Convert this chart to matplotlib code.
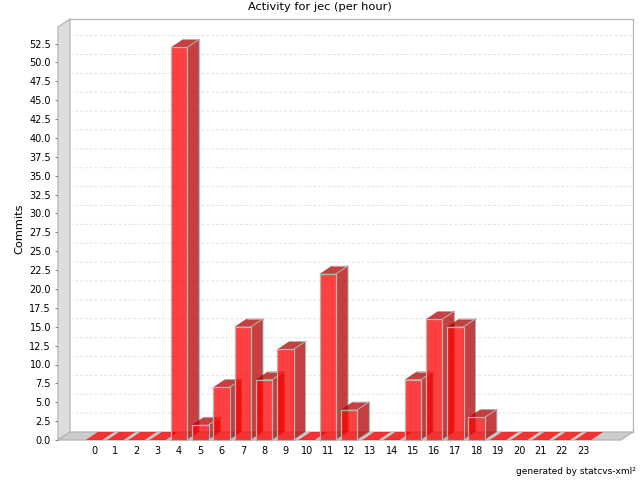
import matplotlib
matplotlib.use('Agg')
import matplotlib.pyplot as plt
from matplotlib.patches import Polygon

hours = list(range(24))
commits = [0, 0, 0, 0, 52, 2, 7, 15, 8, 12, 0, 22, 4, 0, 0, 8, 16, 15, 3, 0, 0, 0, 0, 0]
y_ticks = [2.5 * i for i in range(1, 22)]

plt.rcParams['font.family'] = 'DejaVu Sans'

fig = plt.figure(figsize=(6.4, 4.8), dpi=100)
# front plane of the 3d box, in pixels
left, right, top, bottom = 58, 621, 27, 440
ax = fig.add_axes([left / 640, 1 - bottom / 480, (right - left) / 640, (bottom - top) / 480])

px_x = 21.26   # pixels per category
px_y = 7.55    # pixels per commit
ax.set_xlim(-(94 - left) / px_x, (right - 94) / px_x)
ax.set_ylim(0, (bottom - top) / px_y)
dx = 12 / px_x   # depth offset
dy = 8 / px_y
half = 8.2 / px_x

x0, x1 = ax.get_xlim()
y1 = ax.get_ylim()[1]
edge = '#b4b4b4'

# walls
ax.add_patch(Polygon([(x0, 0), (x0 + dx, dy), (x0 + dx, y1 + dy), (x0, y1)], fc='#dddddd', ec=edge, lw=0.9, clip_on=False, zorder=1))
ax.add_patch(Polygon([(x0, 0), (x1, 0), (x1 + dx, dy), (x0 + dx, dy)], fc='#cccccc', ec=edge, lw=0.9, clip_on=False, zorder=1))
ax.plot([x0 + dx, x1 + dx, x1 + dx], [y1 + dy, y1 + dy, dy], color=edge, lw=0.9, clip_on=False, zorder=1)

# gridlines on the back and side wall
for v in y_ticks:
    ax.plot([x0, x0 + dx, x1 + dx], [v, v + dy, v + dy], color='#e2e2e2', lw=0.7, ls=(0, (3, 2)), clip_on=False, zorder=2)

# bars, left to right
red = '#ff0000'
dark = '#b20000'
for h, c in zip(hours, commits):
    a, b = h - half, h + half
    z = 3 + h
    if c == 0:
        ax.add_patch(Polygon([(a, 0), (b, 0), (b + dx, dy), (a + dx, dy)], fc=red, alpha=0.75, ec='none', clip_on=False, zorder=z))
        continue
    ax.add_patch(Polygon([(b, 0), (b + dx, dy), (b + dx, c + dy), (b, c)], fc=dark, alpha=0.75, ec='none', clip_on=False, zorder=z))
    ax.add_patch(Polygon([(a, c), (b, c), (b + dx, c + dy), (a + dx, c + dy)], fc=dark, alpha=0.75, ec='none', clip_on=False, zorder=z))
    ax.add_patch(Polygon([(a, 0), (b, 0), (b, c), (a, c)], fc=red, alpha=0.75, ec='none', clip_on=False, zorder=z))
    ax.plot([a, a, b, b, a], [0, c, c, 0, 0], color=edge, lw=0.9, clip_on=False, zorder=z)
    ax.plot([b + dx, b + dx, b], [c + dy, dy, 0], color=edge, lw=0.6, clip_on=False, zorder=z)
    ax.plot([b, b + dx], [c, c + dy], color=edge, lw=0.7, clip_on=False, zorder=z)
    ax.plot([a + dx, b + dx], [c + dy, c + dy], color=edge, lw=0.6, clip_on=False, zorder=z)

for s in ax.spines.values():
    s.set_visible(False)
ax.patch.set_visible(False)

ax.set_xticks(hours)
ax.set_xticklabels([str(h) for h in hours], fontsize=7)
ax.set_yticks([0] + y_ticks)
ax.set_yticklabels(['%.1f' % v for v in [0] + y_ticks], fontsize=7)
ax.tick_params(axis='x', length=0, pad=4)
ax.tick_params(axis='y', length=2, width=0.8, color='#888888', pad=3)

fig.text(320 / 640, 1 - 7 / 480, 'Activity for jec (per hour)', fontsize=8.2, ha='center', va='center')
fig.text(19 / 640, 1 - 229 / 480, 'Commits', fontsize=8.2, rotation=90, ha='center', va='center')
fig.text(636 / 640, 1 - 472 / 480, 'generated by statcvs-xml²', fontsize=6.5, ha='right', va='center')

fig.savefig('out.png', dpi=100)
